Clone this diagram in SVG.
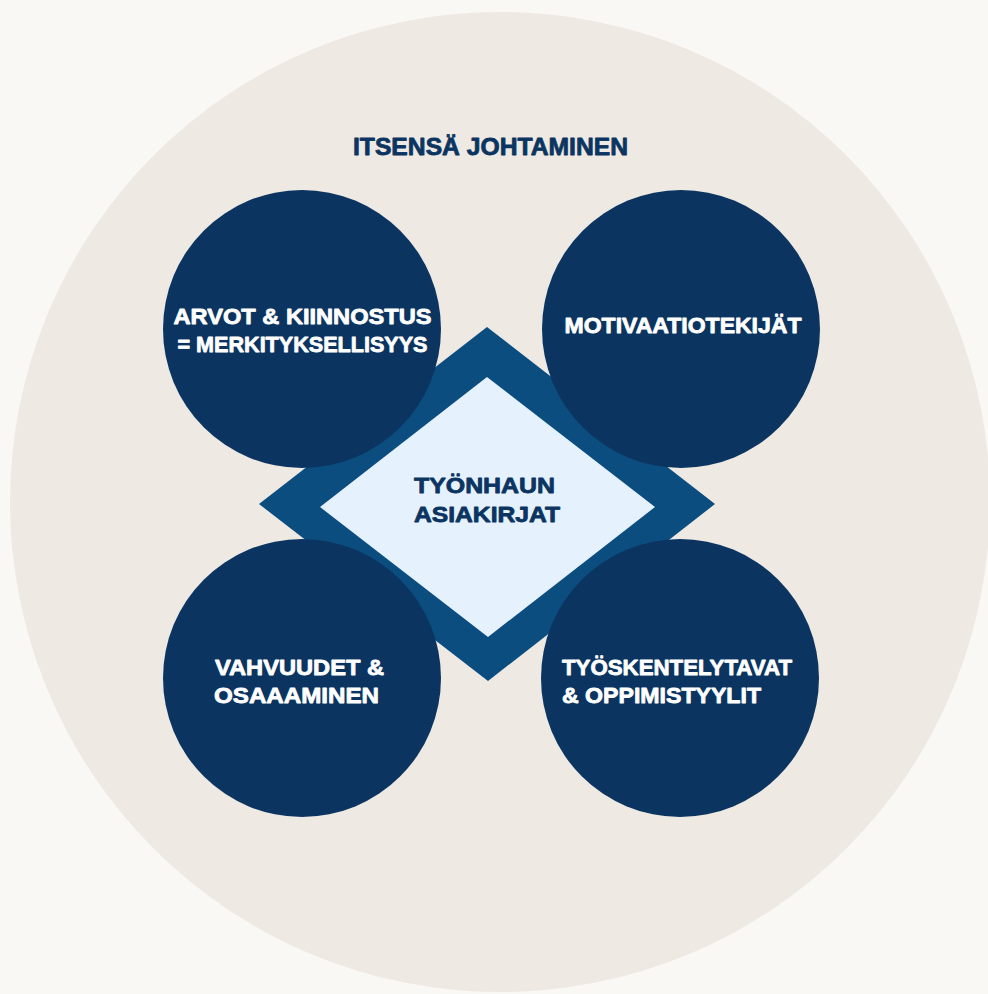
<svg xmlns="http://www.w3.org/2000/svg" width="988" height="994" viewBox="0 0 988 994">
<style>
.t{font-family:"Liberation Sans",Arial,sans-serif;font-weight:bold;font-size:22px;stroke-width:0.8px;stroke-linejoin:round}
.w{fill:#ffffff;stroke:#ffffff}
.d{fill:#0b3560;stroke:#0b3560}
.c{fill:#0b3560}
</style>
<rect width="988" height="994" fill="#f9f8f5"/>
<g id="outer">
<circle cx="500" cy="502" r="490" fill="#eee9e3"/>
<text class="t d" x="490.5" y="155" text-anchor="middle" style="font-size:24px" textLength="275" lengthAdjust="spacingAndGlyphs">ITSENSÄ JOHTAMINEN</text>
</g>
<g id="connectors"></g>
<g id="center">
<polygon points="487,327 715,504 488,681 259,504" fill="#0c4d80"/>
<polygon points="487,377 655,507 488,637 320,507" fill="#e5f1fc"/>
<text class="t d" x="414" y="493" textLength="141" lengthAdjust="spacingAndGlyphs">TYÖNHAUN</text>
<text class="t d" x="414" y="522" textLength="146" lengthAdjust="spacingAndGlyphs">ASIAKIRJAT</text>
</g>
<g id="arvot">
<circle class="c" cx="302" cy="329" r="139"/>
<text class="t w" x="302.5" y="324" text-anchor="middle" textLength="258" lengthAdjust="spacingAndGlyphs">ARVOT &amp; KIINNOSTUS</text>
<text class="t w" x="302.5" y="352" text-anchor="middle" textLength="250" lengthAdjust="spacingAndGlyphs">= MERKITYKSELLISYYS</text>
</g>
<g id="motivaatio">
<circle class="c" cx="681" cy="329" r="139"/>
<text class="t w" x="683" y="333" text-anchor="middle" textLength="237" lengthAdjust="spacingAndGlyphs">MOTIVAATIOTEKIJÄT</text>
</g>
<g id="vahvuudet">
<circle class="c" cx="302" cy="678" r="139"/>
<text class="t w" x="215" y="675" textLength="169" lengthAdjust="spacingAndGlyphs">VAHVUUDET &amp;</text>
<text class="t w" x="214" y="703" textLength="165" lengthAdjust="spacingAndGlyphs">OSAAAMINEN</text>
</g>
<g id="tyoskentely">
<circle class="c" cx="680" cy="678" r="139"/>
<text class="t w" x="562" y="675" textLength="230" lengthAdjust="spacingAndGlyphs">TYÖSKENTELYTAVAT</text>
<text class="t w" x="562" y="703" textLength="199" lengthAdjust="spacingAndGlyphs">&amp; OPPIMISTYYLIT</text>
</g>
</svg>
